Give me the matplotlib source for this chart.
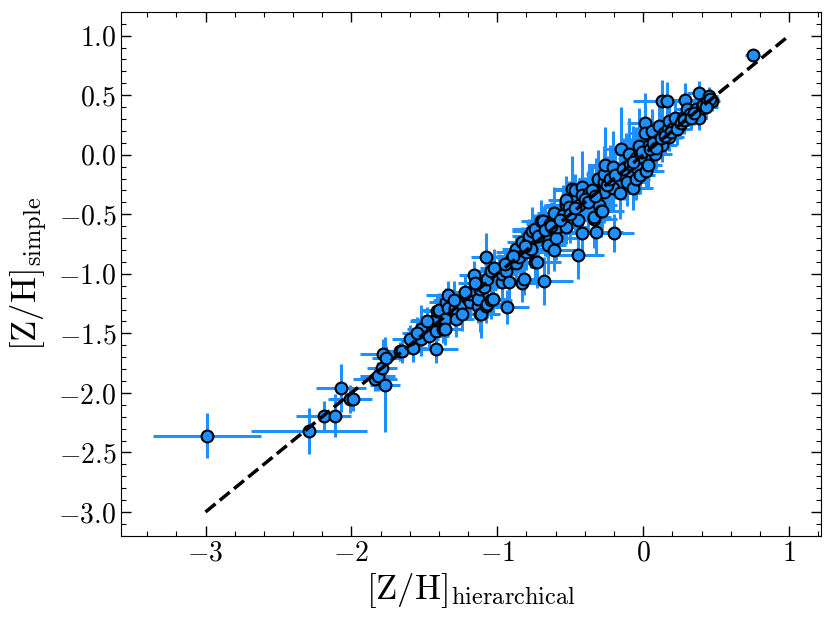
import numpy as np
import matplotlib
matplotlib.use('Agg')
import matplotlib.pyplot as plt
from matplotlib.ticker import MultipleLocator

plt.rcParams['font.family'] = 'serif'
plt.rcParams['font.serif'] = ['cmr10']
plt.rcParams['mathtext.fontset'] = 'cm'
plt.rcParams['axes.formatter.use_mathtext'] = True

# [Z/H] from the hierarchical fit (x) vs the simple fit (y), with 1-sigma errors
z_hier = [
    -2.99, -2.29, -2.19, -2.11, -2.07, -2.01, -1.99, -1.84, -1.82, -1.79,
    -1.77, -1.78, -1.76, -1.67, -1.65, -1.58, -1.52, -1.52, -1.47, -1.44,
    -1.42, -1.42, -1.43, -1.41, -1.40, -1.37, -1.36, -1.36, -1.35, -1.34,
    -1.34, -1.29, -1.29, -1.28, -1.25, -1.24, -1.19, -1.19, -1.16, -1.13,
    -1.13, -1.12, -1.12, -1.11, -1.09, -1.08, -1.08, -1.07, -1.07, -1.04,
    -1.04, -1.03, -0.99, -0.97, -0.97, -0.94, -0.93, -0.92, -0.90, -0.87,
    -0.87, -0.87, -0.85, -0.83, -0.83, -0.82, -0.80, -0.79, -0.78, -0.77,
    -0.76, -0.74, -0.73, -0.74, -0.70, -0.69, -0.68, -0.66, -0.65, -0.64,
    -0.61, -0.61, -0.60, -0.59, -0.55, -0.53, -0.53, -0.53, -0.51, -0.49,
    -0.47, -0.45, -0.45, -0.44, -0.42, -0.42, -0.42, -0.37, -0.34, -0.34,
    -0.32, -0.32, -0.31, -0.30, -0.29, -0.28, -0.27, -0.27, -0.27, -0.26,
    -0.21, -0.21, -0.20, -0.16, -0.16, -0.15, -0.12, -0.11, -0.10, -0.07,
    -0.05, -0.05, -0.04, -0.03, -0.02, -0.02, 0.01, 0.01, 0.02, 0.03,
    0.04, 0.06, 0.08, 0.10, 0.11, 0.13, 0.13, 0.16, 0.14, 0.17,
    0.18, 0.18, 0.20, 0.22, 0.25, 0.27, 0.29, 0.30, 0.32, 0.36,
    0.38, 0.38, 0.40, 0.42, 0.45, 0.47, 0.75,
    -1.60, -1.55, -1.48, -1.30, -1.22, -1.15, -1.02, -0.95, -0.89, -0.81,
    -0.72, -0.67, -0.63, -0.57, -0.50, -0.47, -0.40, -0.38, -0.35, -0.33,
    -0.25, -0.23, -0.19, -0.14, -0.09, -0.07, -0.01, 0.05, 0.07, 0.09,
    0.12, 0.15, 0.19, 0.23, 0.26, 0.28, 0.33, 0.35, 0.41, 0.44,
    0.46, 0.43,
]
z_simple = [
    -2.36, -2.32, -2.19, -2.19, -1.96, -2.05, -2.05, -1.88, -1.86, -1.79,
    -1.93, -1.67, -1.71, -1.65, -1.65, -1.62, -1.55, -1.46, -1.52, -1.41,
    -1.48, -1.63, -1.39, -1.31, -1.30, -1.46, -1.38, -1.46, -1.24, -1.29,
    -1.18, -1.31, -1.29, -1.38, -1.25, -1.34, -1.24, -1.17, -1.01, -1.27,
    -1.21, -1.34, -1.13, -1.34, -1.11, -0.86, -1.27, -1.25, -1.04, -1.22,
    -0.98, -1.21, -0.97, -1.07, -1.00, -0.98, -1.28, -1.07, -0.87, -0.82,
    -0.91, -0.79, -0.86, -1.08, -0.73, -1.04, -0.82, -0.73, -0.68, -0.79,
    -0.64, -0.90, -0.90, -0.62, -0.56, -0.56, -1.06, -0.70, -0.76, -0.58,
    -0.80, -0.49, -0.70, -0.61, -0.51, -0.61, -0.42, -0.38, -0.44, -0.29,
    -0.30, -0.84, -0.55, -0.42, -0.66, -0.27, -0.34, -0.32, -0.54, -0.52,
    -0.65, -0.31, -0.20, -0.42, -0.47, -0.47, -0.23, -0.16, -0.31, -0.09,
    -0.28, -0.10, -0.66, -0.16, -0.32, 0.05, -0.10, -0.23, 0.01, -0.28,
    -0.03, -0.20, -0.11, 0.07, -0.02, -0.17, 0.27, 0.18, -0.14, -0.09,
    0.08, 0.20, 0.01, 0.12, 0.24, 0.08, 0.45, 0.45, 0.18, 0.22,
    0.28, 0.15, 0.22, 0.31, 0.25, 0.31, 0.46, 0.38, 0.34, 0.38,
    0.52, 0.31, 0.39, 0.43, 0.49, 0.45, 0.84,
    -1.55, -1.50, -1.40, -1.22, -1.15, -1.08, -0.95, -0.92, -0.85, -0.77,
    -0.68, -0.63, -0.60, -0.55, -0.50, -0.45, -0.37, -0.40, -0.30, -0.35,
    -0.25, -0.20, -0.17, -0.12, -0.08, -0.06, 0.02, 0.05, 0.10, 0.06,
    0.14, 0.16, 0.19, 0.22, 0.27, 0.29, 0.31, 0.35, 0.42, 0.44,
    0.47, 0.40,
]
z_hier_err = [
    0.37, 0.40, 0.19, 0.10, 0.17, 0.15, 0.12, 0.15, 0.12, 0.10,
    0.10, 0.16, 0.10, 0.10, 0.12, 0.10, 0.12, 0.10, 0.14, 0.12,
    0.10, 0.15, 0.16, 0.10, 0.12, 0.12, 0.14, 0.10, 0.12, 0.10,
    0.15, 0.12, 0.10, 0.12, 0.16, 0.12, 0.14, 0.12, 0.10, 0.12,
    0.10, 0.14, 0.12, 0.10, 0.12, 0.10, 0.14, 0.12, 0.10, 0.14,
    0.12, 0.10, 0.12, 0.14, 0.10, 0.12, 0.15, 0.12, 0.10, 0.14,
    0.12, 0.10, 0.12, 0.12, 0.10, 0.14, 0.12, 0.10, 0.12, 0.14,
    0.14, 0.18, 0.12, 0.16, 0.14, 0.12, 0.20, 0.14, 0.12, 0.16,
    0.14, 0.12, 0.18, 0.14, 0.12, 0.16, 0.14, 0.12, 0.18, 0.12,
    0.14, 0.18, 0.14, 0.12, 0.16, 0.12, 0.14, 0.12, 0.16, 0.12,
    0.18, 0.12, 0.14, 0.12, 0.16, 0.12, 0.14, 0.12, 0.16, 0.12,
    0.12, 0.16, 0.14, 0.12, 0.14, 0.12, 0.12, 0.14, 0.12, 0.14,
    0.12, 0.10, 0.12, 0.10, 0.12, 0.10, 0.12, 0.10, 0.12, 0.10,
    0.10, 0.10, 0.12, 0.10, 0.12, 0.10, 0.20, 0.18, 0.10, 0.12,
    0.08, 0.10, 0.08, 0.10, 0.08, 0.08, 0.10, 0.08, 0.08, 0.08,
    0.08, 0.06, 0.08, 0.06, 0.06, 0.06, 0.05,
    0.12, 0.10, 0.12, 0.14, 0.10, 0.12, 0.10, 0.14, 0.12, 0.10,
    0.14, 0.12, 0.16, 0.12, 0.14, 0.12, 0.14, 0.16, 0.12, 0.14,
    0.12, 0.14, 0.10, 0.12, 0.12, 0.10, 0.10, 0.08, 0.10, 0.08,
    0.10, 0.08, 0.08, 0.10, 0.08, 0.08, 0.08, 0.06, 0.06, 0.06,
    0.06, 0.08,
]
z_simple_err = [
    0.19, 0.19, 0.12, 0.18, 0.20, 0.12, 0.10, 0.10, 0.12, 0.10,
    0.40, 0.12, 0.10, 0.08, 0.10, 0.12, 0.14, 0.20, 0.12, 0.14,
    0.15, 0.12, 0.10, 0.12, 0.14, 0.12, 0.15, 0.14, 0.12, 0.16,
    0.12, 0.14, 0.12, 0.15, 0.12, 0.14, 0.15, 0.14, 0.12, 0.14,
    0.12, 0.15, 0.14, 0.20, 0.16, 0.20, 0.14, 0.12, 0.15, 0.16,
    0.12, 0.14, 0.14, 0.18, 0.12, 0.14, 0.14, 0.16, 0.12, 0.14,
    0.16, 0.12, 0.14, 0.16, 0.12, 0.14, 0.15, 0.12, 0.14, 0.16,
    0.20, 0.14, 0.22, 0.12, 0.18, 0.12, 0.20, 0.16, 0.24, 0.15,
    0.18, 0.22, 0.18, 0.20, 0.26, 0.14, 0.24, 0.12, 0.22, 0.28,
    0.14, 0.20, 0.26, 0.22, 0.18, 0.30, 0.20, 0.24, 0.14, 0.26,
    0.20, 0.28, 0.24, 0.18, 0.22, 0.16, 0.30, 0.20, 0.26, 0.32,
    0.18, 0.30, 0.16, 0.26, 0.22, 0.35, 0.28, 0.20, 0.30, 0.18,
    0.26, 0.18, 0.22, 0.32, 0.20, 0.16, 0.25, 0.22, 0.14, 0.18,
    0.20, 0.18, 0.14, 0.16, 0.20, 0.14, 0.18, 0.16, 0.14, 0.12,
    0.14, 0.12, 0.12, 0.14, 0.12, 0.12, 0.14, 0.12, 0.10, 0.10,
    0.10, 0.10, 0.10, 0.08, 0.08, 0.08, 0.04,
    0.12, 0.14, 0.12, 0.16, 0.14, 0.12, 0.16, 0.14, 0.12, 0.16,
    0.18, 0.22, 0.20, 0.16, 0.24, 0.20, 0.18, 0.26, 0.22, 0.18,
    0.24, 0.28, 0.20, 0.26, 0.22, 0.30, 0.20, 0.22, 0.16, 0.18,
    0.14, 0.16, 0.12, 0.14, 0.10, 0.12, 0.10, 0.10, 0.08, 0.08,
    0.08, 0.10,
]
one_to_one = [-3, 1]

fig, ax = plt.subplots(figsize=(8.3, 6.23), dpi=100)
fig.subplots_adjust(left=0.146, right=0.989, bottom=0.140, top=0.981)

ax.errorbar(z_hier, z_simple, xerr=z_hier_err, yerr=z_simple_err,
            fmt='o', color='dodgerblue', ecolor='dodgerblue',
            mec='k', mew=1.5, ms=8.5, elinewidth=2.2, capsize=0, zorder=2)
ax.plot(one_to_one, one_to_one, 'k--', lw=2.5, zorder=5)

ax.set_xlabel(r'$[\mathrm{Z/H}]_{\mathrm{hierarchical}}$', fontsize=25, labelpad=3)
ax.set_ylabel(r'$[\mathrm{Z/H}]_{\mathrm{simple}}$', fontsize=25, labelpad=6)

ax.xaxis.set_major_locator(MultipleLocator(1))
ax.xaxis.set_minor_locator(MultipleLocator(0.2))
ax.yaxis.set_major_locator(MultipleLocator(0.5))
ax.yaxis.set_minor_locator(MultipleLocator(0.1))
ax.tick_params(which='both', direction='in', top=True, right=True, labelsize=20)
ax.tick_params(which='major', length=7, width=1)
ax.tick_params(which='minor', length=3.5, width=0.8)

fig.savefig('out.png', dpi=100)
